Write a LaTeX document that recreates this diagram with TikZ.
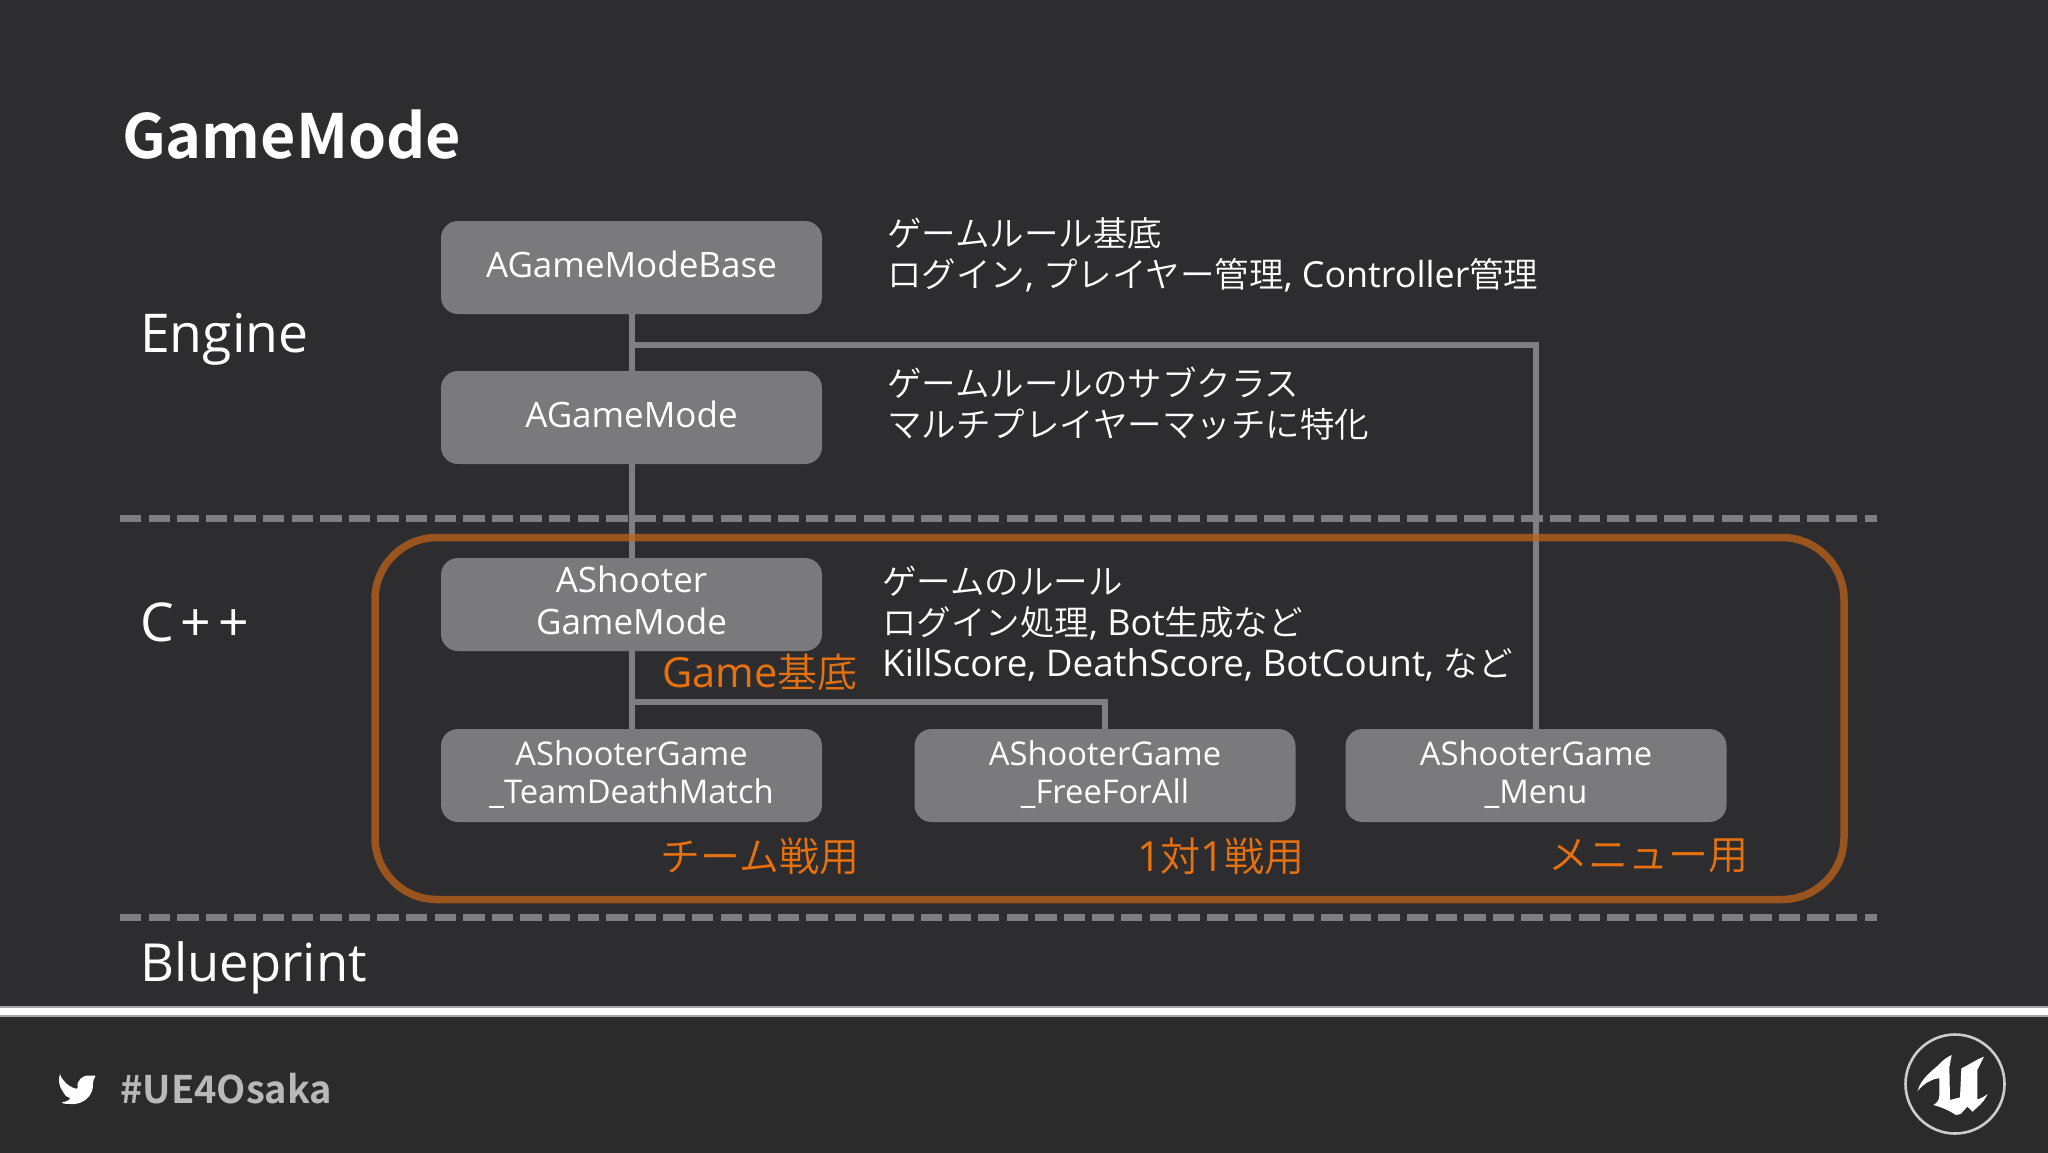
\documentclass[tikz,border=0pt]{standalone}
\usepackage{fontspec}
\setmainfont{Noto Sans CJK JP}
\newfontfamily\light{Noto Sans CJK JP DemiLight}
\newfontfamily\bld{Noto Sans CJK JP Bold}
\newfontfamily\lat{Open Sans}
\newcommand{\la}[1]{{\lat\addfontfeature{Scale=1.04}#1}}
\newcommand{\lb}[1]{{\lat\addfontfeature{Scale=1.065}#1}}
\definecolor{bgc}{HTML}{2D2D2F}
\definecolor{footc}{HTML}{2B2B2B}
\definecolor{boxc}{HTML}{7A797C}
\definecolor{linec}{HTML}{7F7F82}
\definecolor{orgt}{HTML}{E8710F}
\definecolor{orgl}{HTML}{C5651A}
\tikzset{
 x=1pt,y=-1pt,
 classbox/.style={draw=none,fill=boxc,rounded corners=17pt,minimum width=381pt,minimum height=93pt,inner sep=0pt,text=white,align=center,font=\lat\fontsize{35}{42}\selectfont},
 smallbox/.style={classbox,font=\lat\fontsize{32.7}{38}\selectfont},
 conn/.style={draw=linec,line width=6pt},
 sep/.style={draw=linec,line width=7pt,dash pattern=on 21.4pt off 7.2pt},
 layer/.style={anchor=west,inner sep=0pt,text=white,font=\lat\fontsize{53.5}{60}\selectfont},
 descr/.style={anchor=west,inner sep=0pt,text=white,align=left,font=\light\fontsize{34.5}{41}\selectfont},
 tag/.style={anchor=west,inner sep=0pt,text=orgt,font=\light\fontsize{40}{46}\selectfont},
}
\begin{document}
\begin{tikzpicture}
\useasboundingbox (0,0) rectangle (2048,1152);
\fill[bgc] (-5,-5) rectangle (2053,1157);
\fill[footc] (-5,1012) rectangle (2053,1157);
% separators
\coordinate (s1a) at (120,518); \coordinate (s1b) at (1877,518);
\coordinate (s2a) at (120,917); \coordinate (s2b) at (1877,917);
\draw[sep] (s1a) -- (s1b);
\draw[sep] (s2a) -- (s2b);
% footer rule
\coordinate (ra) at (-5,1011.5); \coordinate (rb) at (2053,1011.5);
\draw[draw=white!65!black,line width=11pt] (ra) -- (rb);
\draw[draw=white,line width=7.5pt] (ra) -- (rb);
% boxes
\node[classbox] (base) at (631.5,267.5) {};
\node[classbox] (mode) at (631.5,417.5) {};
\node[classbox] (shooter) at (631.5,604.5) {};
\node[classbox] (tdm) at (631.5,775.5) {};
\node[classbox] (ffa) at (1105,775.5) {};
\node[classbox] (menu) at (1536,775.5) {};
% connectors
\coordinate (b1) at (631.5,702);
\coordinate (b2) at (631.5,345);
\draw[conn] (base.south) -- (mode.north);
\draw[conn] (mode.south) -- (shooter.north);
\draw[conn] (shooter.south) -- (tdm.north);
\draw[conn] (b1) -| (ffa.north);
\draw[conn] (b2) -| (menu.north);
% box labels
\node[classbox,fill=none] (lbase) at (631.5,264) {AGameModeBase};
\node[classbox,fill=none] (lmode) at (631.5,414) {AGameMode};
\node[classbox,fill=none] (lshooter) at (631.5,600) {AShooter\\GameMode};
\node[smallbox,fill=none] (ltdm) at (631.5,775) {AShooterGame\\\_TeamDeathMatch};
\node[smallbox,fill=none] (lffa) at (1105,775) {AShooterGame\\\_FreeForAll};
\node[smallbox,fill=none] (lmenu) at (1536,775) {AShooterGame\\\_Menu};
% group
\node[draw=orgl,draw opacity=.72,line width=7.5pt,rounded corners=62pt,minimum width=1469pt,minimum height=362pt,inner sep=0pt] (group) at (1109.5,718.5) {};
% texts
\node[anchor=west,inner sep=0pt,text=white,font=\bld\fontsize{61}{70}\selectfont] (title) at (122,135) {GameMode};
\node[layer] (engine) at (140,339) {Engine};
\node[layer] (cpp) at (140,622) {C\kern7pt+\kern7pt+};
\node[layer,font=\lat\fontsize{52.5}{60}\selectfont] (bp) at (140,968) {Blueprint};
\node[descr] (d1) at (887,255) {ゲームルール基底\\ログイン\la{, }プレイヤー管理\la{, Controller}管理};
\node[descr] (d2) at (887,404) {ゲームルールのサブクラス\\マルチプレイヤーマッチに特化};
\node[descr] (d3) at (882,624) {ゲームのルール\\ログイン処理\la{, Bot}生成など\\\lb{KillScore, DeathScore, BotCount, }など};
\node[tag] (t1) at (662,672) {\la{Game}基底};
\node[tag] (t2) at (660,856) {チーム戦用};
\node[tag] (t3) at (1137,856) {\la{1}対\la{1}戦用};
\node[tag] (t4) at (1548,856) {メニュー用};
\node[anchor=west,inner sep=0pt,text=white!72!black,font=\bld\fontsize{38}{42}\selectfont] (tagh) at (120,1089) {\#UE4Osaka};
% twitter bird
\fill[white,rounded corners=1.5pt] (60,1075) .. controls (66,1085) and (72,1088) .. (78,1089) .. controls (76,1080) and (84,1074) .. (92,1076) -- (96,1075) -- (93,1081) .. controls (94,1097) and (82,1104) .. (72,1104) .. controls (68,1104) and (64,1104) .. (61,1102) .. controls (66,1102) and (69,1100) .. (71,1098) .. controls (66,1097) and (64,1094) .. (63,1091) .. controls (60,1088) and (58,1080) .. (60,1075) -- cycle;
% logo
\coordinate (logoc) at (1955,1084);
\draw[white!80!black,line width=2.6pt] (logoc) circle (49.5pt);
\begin{scope}[shift={(1850,990)},scale=1/3]
\fill[white] (203,303) .. controls (212,265) and (250,240) .. (265,225) .. controls (280,208) and (295,200) .. (305,195) -- (298,232) -- (300,330) -- (330,322) -- (334,235) .. controls (355,225) and (380,208) .. (402,200) -- (382,240) -- (382,328) .. controls (395,325) and (405,318) .. (413,312) .. controls (400,340) and (380,352) .. (368,365) -- (352,350) -- (332,372) -- (318,375) .. controls (295,360) and (270,350) .. (250,345) .. controls (262,338) and (268,330) .. (268,315) -- (268,265) .. controls (250,265) and (220,280) .. (203,303) -- cycle;
\end{scope}
\end{tikzpicture}
\end{document}
